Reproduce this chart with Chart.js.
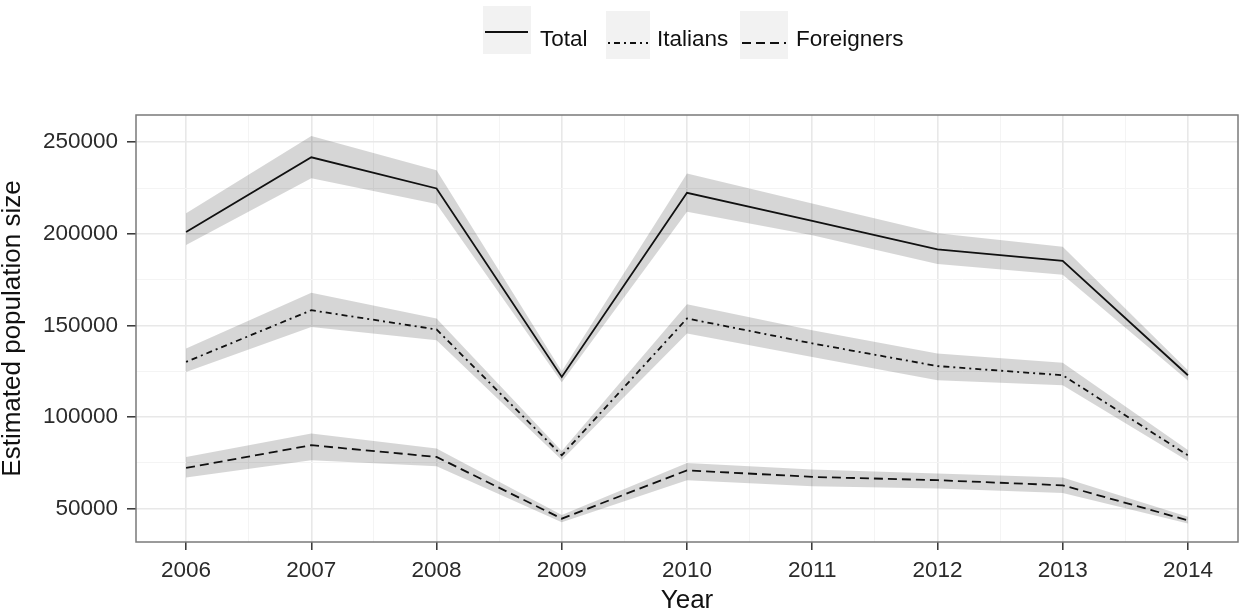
<!DOCTYPE html>
<html>
<head>
<meta charset="utf-8">
<script src="https://cdn.jsdelivr.net/npm/chart.js@4/dist/chart.umd.min.js"></script>
<style>
  html, body { margin: 0; padding: 0; background: #ffffff; }
  #wrap { width: 1254px; height: 613px; position: relative; }
</style>
</head>
<body>
<div id="wrap"><canvas id="chart" width="1254" height="613"></canvas></div>
<script>
// Survey years and axis breaks
const years = [2006, 2007, 2008, 2009, 2010, 2011, 2012, 2013, 2014];
const yBreaks = [50000, 100000, 150000, 200000, 250000];
const seriesNames = ['Total', 'Italians', 'Foreigners'];

// Point estimates with lower / upper interval bounds
const total      = [201000, 241800, 224800, 121900, 222400, 207100, 191500, 185300, 122800];
const totalLow   = [193900, 230300, 216300, 119000, 212100, 199300, 183600, 177700, 120000];
const totalHigh  = [211200, 253400, 234800, 125000, 233000, 216600, 200300, 193000, 125500];

const italians     = [130100, 158300, 147800, 79100, 153800, 140200, 127800, 122800, 79100];
const italiansLow  = [124600, 149200, 141900, 76500, 145600, 132800, 120100, 117400, 76000];
const italiansHigh = [137400, 167800, 153800, 81500, 161600, 147400, 134700, 129600, 82000];

const foreigners     = [72200, 84600, 78200, 44500, 70900, 67300, 65500, 62700, 43600];
const foreignersLow  = [66900, 76400, 73100, 42500, 65500, 62200, 60900, 58500, 41800];
const foreignersHigh = [78200, 91000, 82800, 46500, 74900, 71300, 69100, 66900, 45500];

const FONT = '"Liberation Sans", Arial, sans-serif';
const dashes = { Total: [], Italians: [2, 4, 6, 4], Foreigners: [9, 5] };
const bandFill = 'rgba(0,0,0,0.16)';

const pts = arr => years.map((yr, i) => ({ x: yr, y: arr[i] }));

// midpoints between breaks act as minor grid lines
const mids = a => a.slice(1).map((v, i) => (v + a[i]) / 2);
const xMinor = mids(years);
const yMinor = mids(yBreaks);

function band(name, low, high, idx) {
  return [
    { label: name + ' upper', data: pts(high), borderWidth: 0, pointRadius: 0,
      backgroundColor: bandFill, fill: { target: idx + 1 }, order: 10 },
    { label: name + ' lower', data: pts(low), borderWidth: 0, pointRadius: 0,
      backgroundColor: bandFill, fill: false, order: 10 }
  ];
}

function line(name, values) {
  return { label: name, data: pts(values), borderColor: '#111111', borderWidth: 1.8,
    borderDash: dashes[name], borderCapStyle: 'butt', pointRadius: 0, fill: false,
    tension: 0, order: 0 };
}

const datasets = [
  ...band('Total', totalLow, totalHigh, 0),
  ...band('Italians', italiansLow, italiansHigh, 2),
  ...band('Foreigners', foreignersLow, foreignersHigh, 4),
  line('Total', total),
  line('Italians', italians),
  line('Foreigners', foreigners)
];

// panel border drawn over the data, ggplot style
const panelBorder = {
  id: 'panelBorder',
  afterDraw(chart) {
    const { ctx, chartArea: a } = chart;
    ctx.save();
    ctx.strokeStyle = '#7a7a7a';
    ctx.lineWidth = 1.5;
    ctx.strokeRect(a.left, a.top, a.right - a.left, a.bottom - a.top);
    ctx.restore();
  }
};

// legend with grey key boxes above the panel
const keyLegend = {
  id: 'keyLegend',
  afterDraw(chart) {
    const ctx = chart.ctx;
    const items = [
      { name: seriesNames[0], box: [483, 6, 48, 48], line: [485, 528, 32], textX: 540 },
      { name: seriesNames[1], box: [606, 11, 44, 48], line: [608, 648, 43], textX: 657 },
      { name: seriesNames[2], box: [740, 11, 48, 48], line: [742, 786, 43], textX: 796 }
    ];
    ctx.save();
    items.forEach(it => {
      ctx.fillStyle = '#f2f2f2';
      ctx.fillRect(it.box[0], it.box[1], it.box[2], it.box[3]);
      ctx.strokeStyle = '#111111';
      ctx.lineWidth = 1.8;
      ctx.lineCap = 'butt';
      ctx.setLineDash(dashes[it.name]);
      ctx.beginPath();
      ctx.moveTo(it.line[0], it.line[2]);
      ctx.lineTo(it.line[1], it.line[2]);
      ctx.stroke();
      ctx.setLineDash([]);
      ctx.fillStyle = '#111111';
      ctx.font = '22.5px ' + FONT;
      ctx.textBaseline = 'alphabetic';
      ctx.textAlign = 'left';
      ctx.fillText(it.name, it.textX, 46);
    });
    ctx.restore();
  }
};

const isMajor = (v, majors) => majors.some(m => Math.abs(m - v) < 1e-6);

new Chart(document.getElementById('chart'), {
  type: 'line',
  data: { datasets },
  plugins: [panelBorder, keyLegend],
  options: {
    responsive: false,
    animation: false,
    layout: { padding: { top: 115, right: 16, left: 0, bottom: 0 } },
    plugins: {
      legend: { display: false },
      tooltip: { enabled: false },
      filler: { drawTime: 'beforeDatasetsDraw', propagate: false }
    },
    scales: {
      x: {
        type: 'linear',
        min: 2005.6,
        max: 2014.4,
        afterBuildTicks: s => { s.ticks = [...years, ...xMinor].sort((a, b) => a - b).map(v => ({ value: v })); },
        afterFit: s => { s.height = 71; },
        border: { display: false },
        grid: {
          color: c => isMajor(c.tick.value, years) ? '#e8e8e8' : '#f4f4f4',
          lineWidth: c => isMajor(c.tick.value, years) ? 1.6 : 1,
          tickColor: c => isMajor(c.tick.value, years) ? '#333333' : 'rgba(0,0,0,0)',
          tickLength: 8,
          tickWidth: 1.5
        },
        ticks: {
          autoSkip: false,
          maxRotation: 0,
          padding: 7,
          color: '#2b2b2b',
          font: { family: FONT, size: 22.5 },
          callback: v => isMajor(v, years) ? String(v) : ''
        },
        title: {
          display: true,
          text: 'Year',
          color: '#111111',
          font: { family: FONT, size: 26, lineHeight: 0.9 },
          padding: { top: 0, bottom: 0 }
        }
      },
      y: {
        type: 'linear',
        min: 31750,
        max: 264900,
        afterBuildTicks: s => { s.ticks = [...yBreaks, ...yMinor].sort((a, b) => a - b).map(v => ({ value: v })); },
        afterFit: s => { s.width = 136; },
        border: { display: false },
        grid: {
          color: c => isMajor(c.tick.value, yBreaks) ? '#e8e8e8' : '#f4f4f4',
          lineWidth: c => isMajor(c.tick.value, yBreaks) ? 1.6 : 1,
          tickColor: c => isMajor(c.tick.value, yBreaks) ? '#333333' : 'rgba(0,0,0,0)',
          tickLength: 9,
          tickWidth: 1.5
        },
        ticks: {
          autoSkip: false,
          padding: 9,
          color: '#2b2b2b',
          font: { family: FONT, size: 22.5 },
          callback: v => isMajor(v, yBreaks) ? String(v) : ''
        },
        title: {
          display: true,
          text: 'Estimated population size',
          color: '#111111',
          font: { family: FONT, size: 26, lineHeight: 1 },
          padding: { top: 0, bottom: 0 }
        }
      }
    }
  }
});
</script>
</body>
</html>
